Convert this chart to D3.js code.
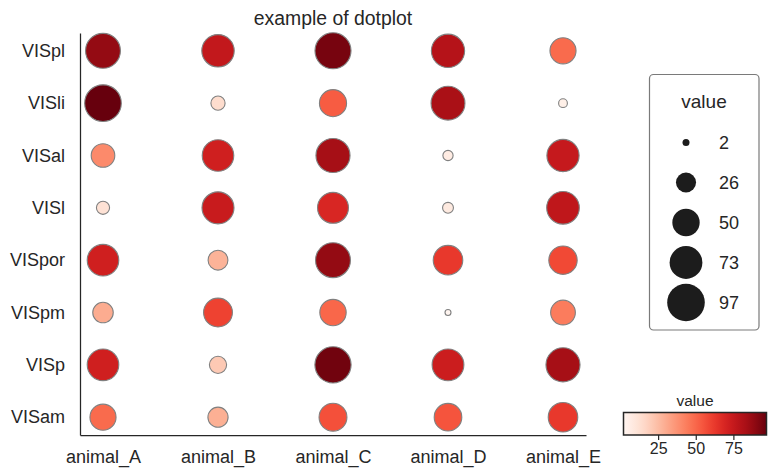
<!DOCTYPE html>
<html lang="en">
<head>
<meta charset="utf-8">
<title>example of dotplot</title>
<script src="https://cdn.jsdelivr.net/npm/d3@7"></script>
<style>
  body { margin: 0; background: #fff; }
  text { font-family: "Liberation Sans", Arial, sans-serif; fill: #262626; }
</style>
</head>
<body>
<script>
// areas (rows) and animals (columns)
const areas = ["VISpl", "VISli", "VISal", "VISl", "VISpor", "VISpm", "VISp", "VISam"];
const animals = ["animal_A", "animal_B", "animal_C", "animal_D", "animal_E"];

// value per area, one array per animal
const animal_A = [88, 97, 40, 12, 72, 30, 72, 49];
const animal_B = [76, 14, 72, 74, 28, 60, 21, 29];
const animal_C = [94, 53, 84, 69, 88, 50, 95, 56];
const animal_D = [80, 83, 7, 8, 63, 2, 73, 55];
const animal_E = [49, 5, 75, 77, 58, 44, 84, 63];

const sizeLegendValues = [2, 26, 50, 73, 97];
const colorTicks = [25, 50, 75];

const byAnimal = [animal_A, animal_B, animal_C, animal_D, animal_E];
const data = [];
animals.forEach((a, i) => {
  areas.forEach((r, j) => data.push({ animal: a, area: r, value: byAnimal[i][j] }));
});

const width = 776, height = 476;
const plot = { left: 80, right: 586, top: 33, bottom: 435 };

const svg = d3.select("body").append("svg")
  .attr("width", width)
  .attr("height", height);

const vmin = d3.min(data, d => d.value);
const vmax = d3.max(data, d => d.value);

const x = d3.scalePoint().domain(animals).range([plot.left, plot.right]).padding(0.2);
const y = d3.scalePoint().domain(areas).range([plot.top, plot.bottom]).padding(0.34);
const color = d3.scaleSequential(d3.interpolateReds).domain([vmin, vmax]);
const area = d3.scaleLinear().domain([vmin, vmax]).range([9, 335]);
const radius = v => Math.sqrt(area(v));

// axes
const gx = svg.append("g")
  .attr("transform", `translate(0,${plot.bottom})`)
  .call(d3.axisBottom(x).tickSize(0).tickSizeOuter(0).tickPadding(15));
const gy = svg.append("g")
  .attr("transform", `translate(${plot.left},0)`)
  .call(d3.axisLeft(y).tickSize(0).tickSizeOuter(0).tickPadding(15));
[gx, gy].forEach(g => {
  g.select(".domain").attr("stroke", "#262626").attr("stroke-width", 1.25);
  g.selectAll("text").style("font-size", "18px").attr("fill", "#262626");
});

// dots
svg.append("g").selectAll("circle")
  .data(data)
  .enter()
  .append("circle")
  .attr("cx", d => x(d.animal))
  .attr("cy", d => y(d.area))
  .attr("r", d => radius(d.value))
  .attr("fill", d => color(d.value))
  .attr("stroke", "#808080")
  .attr("stroke-width", 1.1);

// title
svg.append("text")
  .attr("x", (plot.left + plot.right) / 2)
  .attr("y", 25)
  .attr("text-anchor", "middle")
  .style("font-size", "19.4px")
  .text("example of dotplot");

// size legend
const leg = svg.append("g");
leg.append("rect")
  .attr("x", 649.5).attr("y", 74.5)
  .attr("width", 109.5).attr("height", 255.5)
  .attr("rx", 4)
  .attr("fill", "#fff")
  .attr("stroke", "#7a7a7a")
  .attr("stroke-width", 1.2);
leg.append("text")
  .attr("x", 704).attr("y", 108)
  .attr("text-anchor", "middle")
  .style("font-size", "19px")
  .text("value");
const ly = d3.scalePoint().domain(sizeLegendValues).range([142.5, 302.5]);
const items = leg.selectAll("g.item")
  .data(sizeLegendValues)
  .enter()
  .append("g")
  .attr("class", "item")
  .attr("transform", d => `translate(0,${ly(d)})`);
items.append("circle")
  .attr("cx", 686)
  .attr("r", d => radius(d) + 0.5)
  .attr("fill", "#1c1c1c");
items.append("text")
  .attr("x", 719)
  .attr("dy", "0.36em")
  .style("font-size", "18px")
  .text(d => d);

// colorbar
const cb = { x0: 623.5, x1: 766.5, y0: 412.5, y1: 435 };
const cbx = d3.scaleLinear().domain([vmin, vmax]).range([cb.x0, cb.x1]);
const grad = svg.append("defs").append("linearGradient")
  .attr("id", "reds")
  .attr("x1", "0%").attr("x2", "100%");
d3.range(0, 1.0001, 0.05).forEach(t => {
  grad.append("stop")
    .attr("offset", `${t * 100}%`)
    .attr("stop-color", d3.interpolateReds(t));
});
svg.append("rect")
  .attr("x", cb.x0).attr("y", cb.y0)
  .attr("width", cb.x1 - cb.x0).attr("height", cb.y1 - cb.y0)
  .attr("fill", "url(#reds)")
  .attr("stroke", "#262626")
  .attr("stroke-width", 1.5);
const gcb = svg.append("g")
  .attr("transform", `translate(0,${cb.y1})`)
  .call(d3.axisBottom(cbx).tickValues(colorTicks).tickSize(5).tickPadding(3));
gcb.select(".domain").remove();
gcb.selectAll("line").attr("stroke", "#262626").attr("stroke-width", 1.2);
gcb.selectAll("text").style("font-size", "16px").attr("fill", "#262626");
svg.append("text")
  .attr("x", (cb.x0 + cb.x1) / 2)
  .attr("y", 406)
  .attr("text-anchor", "middle")
  .style("font-size", "15.5px")
  .text("value");
</script>
</body>
</html>
